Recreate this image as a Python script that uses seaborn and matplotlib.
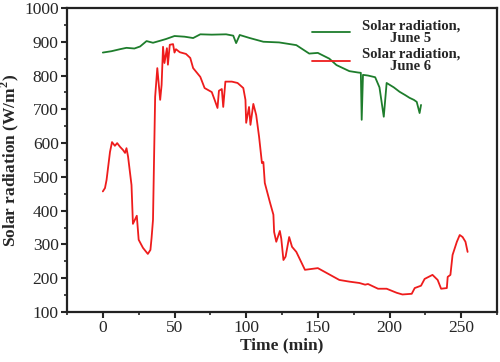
import pandas as pd
import numpy as np
import matplotlib
matplotlib.use("Agg")
import matplotlib.pyplot as plt
import seaborn as sns
import matplotlib.ticker as ticker

# June 5 (green)
t_june5 = [0, 6, 12, 16.5, 22, 26, 30.5, 35, 40, 44, 50, 57, 63, 68, 76, 86, 91, 93, 95.5,
           102.5, 112, 123, 135, 144, 150, 158, 163, 172, 178, 180, 180.6, 181.5, 185, 190,
           193, 196, 198, 203, 207, 211, 214, 217, 219, 221, 222]
rad_june5 = [868, 872, 878, 882, 880, 886, 902, 897, 903, 908, 917, 915, 911, 922, 921, 922, 918, 896, 920,
             911, 900, 898, 890, 865, 867, 850, 831, 813, 809, 808, 669, 802, 800, 795,
             765, 678, 778, 765, 752, 742, 734, 728, 722, 689, 713]

# June 6 (red)
t_june6 = [0, 1.5, 2.6, 5, 6.4, 8.4, 10, 12, 14, 15.5, 16.5, 17.6, 20, 21, 23.7, 25, 28, 31.4,
           33.2, 34, 35, 35.6, 36.5, 38, 40, 41, 42, 43, 44.7, 45.4, 46.7, 49, 50, 51, 53.7,
           58, 61, 63, 68, 71, 76, 78, 80, 81, 83, 84, 85.5, 90, 94, 98, 99.5, 100, 102,
           103, 105, 107, 109, 111, 112, 113, 116.5, 119, 119.5, 121, 123.5, 124.5, 126,
           127.5, 130, 132, 135, 141, 150, 156, 165, 172, 179, 183, 185, 192, 198, 205,
           209, 215.5, 217.6, 222, 224.5, 230, 233.6, 236, 240, 240.6, 242.5, 244, 247,
           249, 251, 253, 254.5]
rad_june6 = [457, 467, 491, 574, 603, 592, 600, 589, 580, 571, 585, 560, 476, 361, 385, 314, 290, 272,
             284, 319, 373, 521, 737, 822, 728, 772, 885, 837, 881, 832, 891, 893, 868, 878, 869,
             864, 852, 822, 796, 763, 751, 728, 704, 755, 760, 707, 782, 782, 778, 763, 728, 660, 707,
             654, 716, 683, 619, 541, 544, 482, 426, 388, 337, 308, 340, 317, 254,
             264, 322, 293, 278, 225, 230, 216, 195, 190, 186, 181, 183, 169, 169, 157,
             152, 154, 171, 178, 198, 210, 195, 169, 171, 204, 210, 269, 308,
             328, 322, 308, 278]

x_ticks = [0, 50, 100, 150, 200, 250]
y_ticks = [100, 200, 300, 400, 500, 600, 700, 800, 900, 1000]

df5 = pd.DataFrame({"t": t_june5, "rad": rad_june5})
df6 = pd.DataFrame({"t": t_june6, "rad": rad_june6})

sns.set_style("ticks")
plt.rcParams["font.family"] = ["Liberation Serif", "DejaVu Serif"]
plt.rcParams["mathtext.fontset"] = "custom"
plt.rcParams["mathtext.rm"] = "Liberation Serif"
plt.rcParams["mathtext.bf"] = "Liberation Serif:bold"

fig = plt.figure(figsize=(5, 3.62), dpi=100)
ax = fig.add_axes([0.134, 0.138, 0.86, 0.84])

sns.lineplot(data=df5, x="t", y="rad", ax=ax, color="#1e7d2c", lw=1.3,
             estimator=None, sort=False, label="Solar radiation,\nJune 5")
sns.lineplot(data=df6, x="t", y="rad", ax=ax, color="#ee1c1c", lw=1.3,
             estimator=None, sort=False, label="Solar radiation,\nJune 6")

ax.set_xlim(-25, 275)
ax.set_ylim(100, 1000)
ax.set_xticks(x_ticks)
ax.set_yticks(y_ticks)
ax.xaxis.set_minor_locator(ticker.MultipleLocator(25))
ax.yaxis.set_minor_locator(ticker.MultipleLocator(50))
ax.tick_params(which="major", length=4, width=1.5, labelsize=12.5, direction="out", pad=2)
ax.tick_params(which="minor", length=2.5, width=1.2, direction="out")
for s in ax.spines.values():
    s.set_linewidth(1.6)
    s.set_color("#222222")

ax.set_xlabel("Time (min)", fontsize=12.5, fontweight="bold", labelpad=1)
ax.set_ylabel(r"Solar radiation (W/m$^\mathbf{2}$)", fontsize=12.5, fontweight="bold", labelpad=2)

leg = ax.legend(loc="upper right", bbox_to_anchor=(0.944, 1.005), frameon=False,
                prop={"weight": "bold", "size": 10.5}, labelspacing=0.2,
                handlelength=2.6, handletextpad=0.8)
plt.setp(leg.get_texts(), multialignment="center", linespacing=0.95)

fig.savefig("out.png", dpi=100)
